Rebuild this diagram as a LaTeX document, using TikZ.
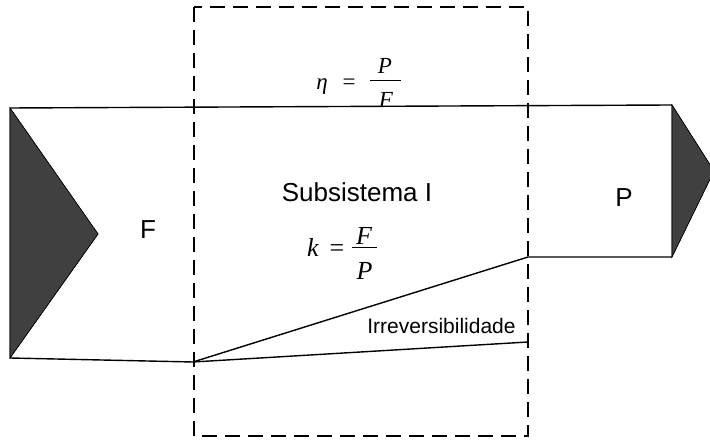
\documentclass[tikz,border=0pt]{standalone}
\usepackage{fontspec}
\setmainfont{Liberation Serif}
\setsansfont{Liberation Sans}
\definecolor{slate}{HTML}{404040}
\tikzset{
  flow/.style={line width=1.4pt,line join=round},
  border/.style={line width=1.5pt,dash pattern=on 15pt off 8pt},
  wedge/.style={fill=slate,draw=black,line width=0.6pt},
  lbl/.style={font=\sffamily\fontsize{26}{30}\selectfont,inner sep=0pt},
  sym/.style={font=\rmfamily\itshape\fontsize{#1}{#1}\selectfont,inner sep=0pt},
  rel/.style={font=\rmfamily\fontsize{#1}{#1}\selectfont,inner sep=0pt,anchor=base},
  bar/.style={line width=0.9pt}
}
\begin{document}
\begin{tikzpicture}[x=1pt,y=1pt]
        \useasboundingbox (0,0) rectangle (710,441);
        \clip (0,0) rectangle (710,441);
        % corners of the flow band
        \coordinate (inTop) at (10,333);
        \coordinate (inBot) at (10,83);
        \coordinate (inTip) at (98,207);
        \coordinate (outTop) at (672,336);
        \coordinate (outBot) at (672,184);
        \coordinate (outTip) at (714,270);
        \coordinate (split) at (193,79);
        \coordinate (exitLow) at (528,184);
        \coordinate (lossEnd) at (528,99);
        \fill[wedge] (inTop) -- (inTip) -- (inBot) -- cycle;
        \fill[wedge] (outTop) -- (outTip) -- (outBot) -- cycle;
        \draw[wedge] (inTop) -- (inTip) -- (inBot) -- cycle;
        \draw[wedge] (outTop) -- (outTip) -- (outBot) -- cycle;
        % efficiency
        \node[sym=23,anchor=base] (eta) at (322,351) {η};
        \node[rel=23] (etaEq) at (349,351) {=};
        \node[sym=23] (etaNum) at (385,375.5) {P};
        \node[sym=23] (etaDen) at (386,341) {F};
        \coordinate (etaBarL) at (370,361);
        \coordinate (etaBarR) at (401,361);
        \draw[bar] (etaBarL) -- (etaBarR);
        % labels
        \node[lbl] (sub) at (357,248.5) {Subsistema I};
        \node[lbl] (fuel) at (148,211.5) {F};
        \node[lbl] (prod) at (624,243.5) {P};
        \node[font=\sffamily\fontsize{21}{24}\selectfont,inner sep=0pt] (irr) at (441.5,115.5) {Irreversibilidade};
        % unit consumption
        \node[sym=26,anchor=base] (kay) at (313,184) {k};
        \node[rel=26] (kEq) at (337,184) {=};
        \node[sym=26] (kNum) at (364,205) {F};
        \node[sym=26] (kDen) at (364.5,170.5) {P};
        \coordinate (kBarL) at (352,194);
        \coordinate (kBarR) at (377,194);
        \draw[bar] (kBarL) -- (kBarR);
        % band outline
        \draw[flow] (inTop) -- (outTop);
        \draw[flow] (inBot) -- (split) -- (exitLow) -- (outBot);
        \draw[flow] (split) -- (lossEnd);
        % control volume
        \draw[border] (194,434) rectangle (528,5);
      \end{tikzpicture}
\end{document}
